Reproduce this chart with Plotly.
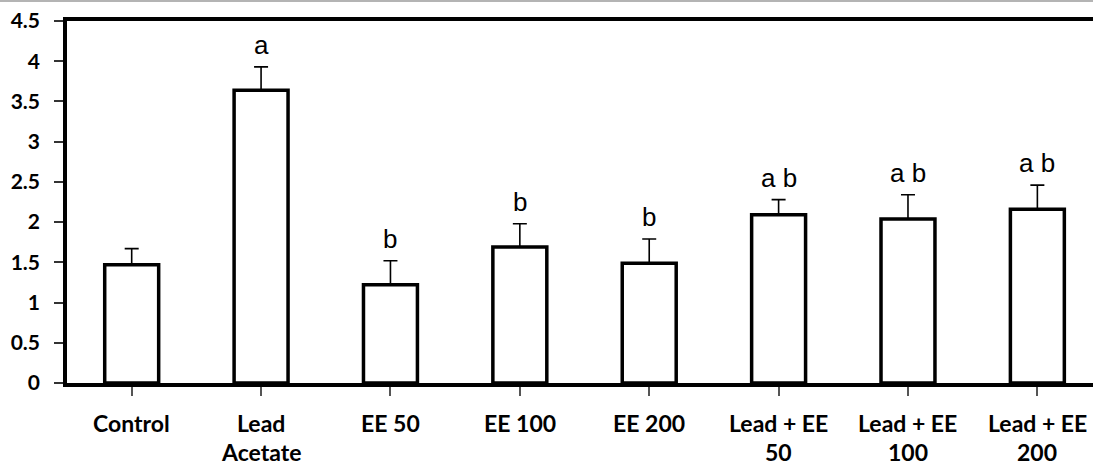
import plotly.graph_objects as go

categories = ["Control", "Lead\nAcetate", "EE 50", "EE 100", "EE 200",
              "Lead + EE\n50", "Lead + EE\n100", "Lead + EE\n200"]
values = [1.47, 3.64, 1.22, 1.69, 1.49, 2.09, 2.04, 2.16]
errors = [0.20, 0.29, 0.30, 0.29, 0.30, 0.19, 0.30, 0.30]
letters = ["", "a", "b", "b", "b", "a b", "a b", "a b"]
y_ticks = [0, 0.5, 1, 1.5, 2, 2.5, 3, 3.5, 4, 4.5]
y_tick_text = ["0", "0.5", "1", "1.5", "2", "2.5", "3", "3.5", "4", "4.5"]

xs = list(range(len(categories)))

fig = go.Figure()
fig.add_trace(go.Bar(
    x=xs, y=values, width=0.417,
    marker=dict(color="white", line=dict(color="black", width=3.5)),
    error_y=dict(type="data", array=errors, symmetric=False, arrayminus=[0]*len(errors),
                 color="black", thickness=1.6, width=7),
    showlegend=False,
))

annotations = []
for x, v, e, t in zip(xs, values, errors, letters):
    if t:
        annotations.append(dict(x=x, y=v + e, xref="x", yref="y", text=t, showarrow=False,
                                yanchor="bottom", yshift=5,
                                font=dict(family="Liberation Sans", size=26, color="black")))
for x, lab in zip(xs, categories):
    for i, line in enumerate(lab.split("\n")):
        annotations.append(dict(x=x, y=0, xref="x", yref="y", text=line, showarrow=False,
                                yanchor="middle", yshift=-40 - 29 * i, borderpad=0,
                                font=dict(family="Lato", size=23, color="black", weight="bold")))

fig.update_layout(
    width=1093, height=467,
    margin=dict(l=67, r=0, t=21, b=84),
    paper_bgcolor="white", plot_bgcolor="white",
    annotations=annotations,
    shapes=[dict(type="line", xref="paper", yref="paper", x0=-0.1, x1=1.1,
                 y0=1 + 20 / 362, y1=1 + 20 / 362, line=dict(color="#b4b4b4", width=2))],
    xaxis=dict(range=[-0.5, 7.43], tickmode="array", tickvals=xs, ticktext=[""] * len(xs),
               showticklabels=False, tickson="boundaries", ticks="outside", ticklen=9,
               tickwidth=1.5, tickcolor="#555555", showline=True, linecolor="black",
               linewidth=3.5, mirror=True, showgrid=False, zeroline=False, type="linear"),
    yaxis=dict(range=[0, 4.5], tickmode="array", tickvals=y_ticks, ticktext=y_tick_text,
               ticks="outside", ticklen=9, tickwidth=1.5, tickcolor="#333333",
               showline=True, linecolor="black", linewidth=3.5, mirror=False,
               showgrid=False, zeroline=False, ticklabelstandoff=10,
               tickfont=dict(family="Lato", size=21, color="black", weight="bold")),
)

fig.write_html("out.html", config={"displayModeBar": False},
               post_script="document.body.style.margin='0';")
